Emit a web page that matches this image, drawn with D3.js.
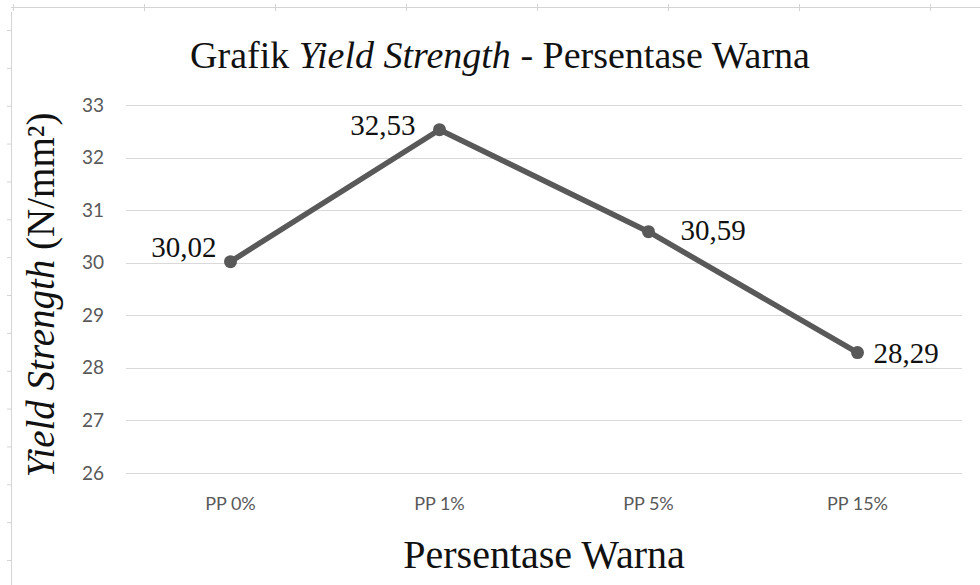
<!DOCTYPE html>
<html>
<head>
<meta charset="utf-8">
<script src="https://cdn.jsdelivr.net/npm/d3@7"></script>
<style>
  body { margin: 0; background: #fff; }
  svg { display: block; }
</style>
</head>
<body>
<div id="chart"></div>
<script>
// data
const categories = ["PP 0%", "PP 1%", "PP 5%", "PP 15%"];
const yieldValues = [30.02, 32.53, 30.59, 28.29];
const valueLabels = ["30,02", "32,53", "30,59", "28,29"];
const yTicks = [26, 27, 28, 29, 30, 31, 32, 33];

function drawChart() {
    const width = 980;
    const height = 585;
    const margin = { top: 105, right: 18, bottom: 112, left: 126 };
    const serif = '"Liberation Serif", "Times New Roman", serif';

    const svg = d3.select('#chart')
        .append('svg')
        .attr('width', width)
        .attr('height', height);

    // faint page frame (ruler-like edges of the screenshot)
    const frame = svg.append('g').attr('stroke', '#d4d4d4').attr('fill', 'none');
    frame.append('line').attr('x1', 11).attr('x2', width).attr('y1', 7.5).attr('y2', 7.5);
    frame.append('line').attr('x1', 11.5).attr('x2', 11.5).attr('y1', 12).attr('y2', height);
    const rulerX = d3.scaleLinear().domain([0, 7]).range([13, 930]);
    frame.selectAll('.rx')
        .data(d3.range(8))
        .enter().append('line')
        .attr('x1', d => rulerX(d) + 0.5).attr('x2', d => rulerX(d) + 0.5)
        .attr('y1', 4).attr('y2', 11);
    const rulerY = d3.scaleLinear().domain([0, 14]).range([30, 560]);
    frame.selectAll('.ry')
        .data(d3.range(15))
        .enter().append('line')
        .attr('x1', 7).attr('x2', 11)
        .attr('y1', d => rulerY(d) + 0.5).attr('y2', d => rulerY(d) + 0.5);

    const x = d3.scaleBand()
        .domain(categories)
        .range([margin.left, width - margin.right]);

    const y = d3.scaleLinear()
        .domain([26, 33])
        .range([height - margin.bottom, margin.top]);

    // gridlines
    svg.append('g')
        .selectAll('line')
        .data(yTicks)
        .enter().append('line')
        .attr('x1', margin.left)
        .attr('x2', width - margin.right)
        .attr('y1', d => Math.round(y(d)) + 0.5)
        .attr('y2', d => Math.round(y(d)) + 0.5)
        .attr('stroke', '#d9d9d9')
        .attr('stroke-width', 1.2);

    // y axis labels
    const yAxis = svg.append('g')
        .attr('transform', `translate(${margin.left},0)`)
        .call(d3.axisLeft(y).tickValues(yTicks).tickFormat(d3.format('d')).tickSize(0).tickPadding(22));
    yAxis.select('.domain').remove();
    yAxis.selectAll('text')
        .style('font-family', 'Lato, "Open Sans", sans-serif')
        .style('font-size', '19px')
        .attr('fill', '#595959');

    // x axis labels
    const xAxis = svg.append('g')
        .attr('transform', `translate(0,${height - margin.bottom})`)
        .call(d3.axisBottom(x).tickSize(0).tickPadding(24));
    xAxis.select('.domain').remove();
    xAxis.selectAll('text')
        .style('font-family', 'Lato, "Open Sans", sans-serif')
        .style('font-size', '18px')
        .attr('fill', '#595959');

    const cx = d => x(d) + x.bandwidth() / 2;

    // line
    const line = d3.line()
        .x((d, i) => cx(categories[i]))
        .y(d => y(d));

    svg.append('path')
        .datum(yieldValues)
        .attr('d', line)
        .attr('fill', 'none')
        .attr('stroke', '#595959')
        .attr('stroke-width', 5.5)
        .attr('stroke-linejoin', 'round');

    svg.selectAll('.dot')
        .data(yieldValues)
        .enter().append('circle')
        .attr('cx', (d, i) => cx(categories[i]))
        .attr('cy', d => y(d))
        .attr('r', 6.5)
        .attr('fill', '#595959');

    // data labels
    const labelPos = [
        { dx: -14, dy: -5, anchor: 'end' },
        { dx: -24, dy: 5, anchor: 'end' },
        { dx: 32, dy: 8, anchor: 'start' },
        { dx: 16, dy: 10, anchor: 'start' }
    ];
    svg.selectAll('.vlabel')
        .data(yieldValues)
        .enter().append('text')
        .attr('x', (d, i) => cx(categories[i]) + labelPos[i].dx)
        .attr('y', (d, i) => y(d) + labelPos[i].dy)
        .attr('text-anchor', (d, i) => labelPos[i].anchor)
        .style('font-family', serif)
        .style('font-size', '29px')
        .attr('fill', '#111')
        .text((d, i) => valueLabels[i]);

    // title
    const title = svg.append('text')
        .attr('x', 500)
        .attr('y', 68)
        .attr('text-anchor', 'middle')
        .style('font-family', serif)
        .style('font-size', '38px')
        .attr('fill', '#111');
    title.append('tspan').text('Grafik ');
    title.append('tspan').style('font-style', 'italic').text('Yield Strength');
    title.append('tspan').text(' - Persentase Warna');

    // x axis title
    svg.append('text')
        .attr('x', (margin.left + width - margin.right) / 2)
        .attr('y', 568)
        .attr('text-anchor', 'middle')
        .style('font-family', serif)
        .style('font-size', '40px')
        .attr('fill', '#111')
        .text('Persentase Warna');

    // y axis title
    const yTitle = svg.append('text')
        .attr('transform', `translate(54,${(y(26) + y(33)) / 2 + 6}) rotate(-90)`)
        .attr('text-anchor', 'middle')
        .style('font-family', serif)
        .style('font-size', '39px')
        .attr('fill', '#111');
    yTitle.append('tspan').style('font-style', 'italic').text('Yield Strength');
    yTitle.append('tspan').text(' (N/mm²)');
}

drawChart();
</script>
</body>
</html>
